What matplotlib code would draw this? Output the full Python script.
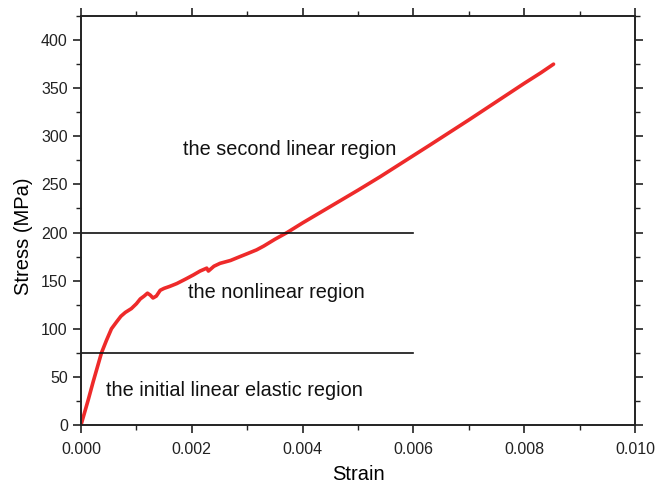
import matplotlib
matplotlib.use("Agg")
import matplotlib.pyplot as plt
from matplotlib.ticker import MultipleLocator, FormatStrFormatter

plt.rcParams['font.family'] = ['Liberation Sans', 'DejaVu Sans']

strain = [0.0, 0.00006, 0.00013, 0.00022, 0.0003, 0.00037, 0.00046, 0.00055, 0.00064, 0.00072,
          0.0008, 0.00091, 0.001, 0.00107, 0.00114, 0.0012, 0.00125, 0.0013, 0.00136, 0.00143,
          0.0015, 0.0016, 0.00173, 0.0019, 0.00203, 0.00215, 0.00227, 0.0023, 0.0024, 0.00251,
          0.0027, 0.00287, 0.003, 0.00317, 0.0033, 0.0035, 0.00372, 0.004, 0.0045, 0.005,
          0.0054, 0.006, 0.0063, 0.007, 0.0075, 0.008, 0.0083, 0.00853]
stress = [0.0, 12, 26, 45, 61, 75, 88, 100, 107, 113,
          117, 121, 126, 131, 134, 137, 135, 132, 134, 140,
          142, 144, 147, 152, 156, 160, 163, 160, 165, 168,
          171, 175, 178, 182, 186, 193, 200, 210, 227, 244,
          258, 280, 291, 317, 336, 355, 366, 375]

elastic_limit = 75
linear_start = 200
line_end = 0.006

fig = plt.figure(figsize=(6.71, 4.86), dpi=100)
ax = fig.add_axes([0.1207, 0.1255, 0.8256, 0.8415])

ax.plot(strain, stress, color='#ee2a2a', lw=2.6, solid_capstyle='round', solid_joinstyle='round')
ax.plot([0, line_end], [linear_start, linear_start], color='#111111', lw=1.2)
ax.plot([0, line_end], [elastic_limit, elastic_limit], color='#111111', lw=1.2)

ax.text(0.00184, 280.5, 'the second linear region', fontsize=14.3, va='baseline', color='#111111')
ax.text(0.00193, 132, 'the nonlinear region', fontsize=14.3, va='baseline', color='#111111')
ax.text(0.000446, 30.5, 'the initial linear elastic region', fontsize=14.3, va='baseline', color='#111111')

ax.set_xlim(0, 0.010)
ax.set_ylim(0, 425)
ax.xaxis.set_major_locator(MultipleLocator(0.002))
ax.xaxis.set_minor_locator(MultipleLocator(0.001))
ax.yaxis.set_major_locator(MultipleLocator(50))
ax.yaxis.set_minor_locator(MultipleLocator(25))
ax.xaxis.set_major_formatter(FormatStrFormatter('%.3f'))

ax.tick_params(which='both', direction='out', top=True, right=True, labelsize=11.5, colors='#222222')
ax.tick_params(axis='x', which='major', pad=6)
ax.tick_params(which='major', length=6, width=1.2)
ax.tick_params(which='minor', length=3.5, width=1.0)
for s in ax.spines.values():
    s.set_linewidth(1.4)
    s.set_color('#222222')

ax.set_xlabel('Strain', fontsize=14.5, labelpad=6)
ax.set_ylabel('Stress (MPa)', fontsize=14.5, labelpad=6, y=0.462)

fig.savefig('out.png', dpi=100)
